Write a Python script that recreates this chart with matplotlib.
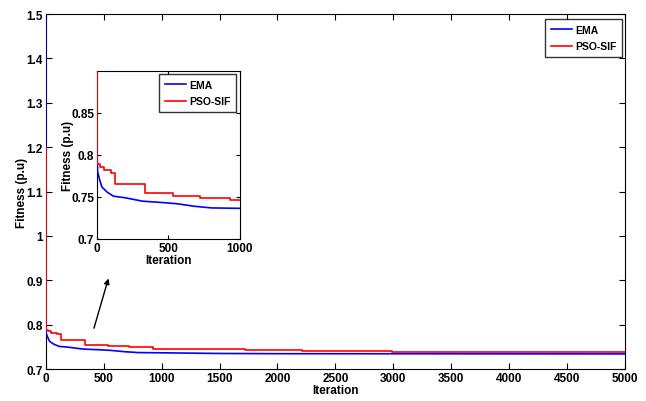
import matplotlib.pyplot as plt
from matplotlib.ticker import FuncFormatter

plt.rcParams['font.family'] = ['Liberation Sans Narrow', 'Liberation Sans', 'DejaVu Sans']
plt.rcParams['font.weight'] = 'bold'

# convergence data
ema_iter = [0, 1, 5, 20, 35, 70, 115, 200, 320, 450, 560, 680, 800, 1000, 1500, 2000, 5000]
ema_fit = [1.5, 0.805, 0.78, 0.77, 0.762, 0.756, 0.751, 0.749, 0.745, 0.7435, 0.742,
           0.739, 0.737, 0.7365, 0.735, 0.7345, 0.734]

pso_iter = [0, 1, 20, 50, 100, 128, 337, 534, 721, 930, 1720, 2210, 2990, 5000]
pso_fit = [1.2, 0.789, 0.786, 0.782, 0.779, 0.765, 0.755, 0.751, 0.749, 0.746,
           0.742, 0.7395, 0.7385, 0.7385]

fmt = FuncFormatter(lambda v, p: '%g' % round(v, 3))
fs = 8.5
lfs = 7.5

fig = plt.figure(figsize=(6.46, 4.02), dpi=100)
ax = fig.add_axes([0.0707, 0.0796, 0.897, 0.883])
ax.plot(ema_iter, ema_fit, color='#0000ff', lw=1.2, label='EMA', zorder=3)
ax.plot(pso_iter, pso_fit, color='#ff0000', lw=1.2, drawstyle='steps-post',
        label='PSO-SIF', zorder=3)
ax.set_xlim(0, 5000)
ax.set_ylim(0.7, 1.5)
ax.set_xticks(range(0, 5001, 500))
ax.set_yticks([0.7, 0.8, 0.9, 1.0, 1.1, 1.2, 1.3, 1.4, 1.5])
ax.yaxis.set_major_formatter(fmt)
ax.tick_params(direction='in', top=True, right=True, labelsize=fs, length=4, pad=2)
ax.set_xlabel('Iteration', fontsize=fs, fontweight='bold', labelpad=0)
ax.set_ylabel('Fitness (p.u)', fontsize=fs, fontweight='bold', labelpad=-1)
ax.legend(loc='upper right', fontsize=lfs, frameon=True, fancybox=False,
          edgecolor='black', handlelength=2.0, handletextpad=0.3, borderpad=0.55,
          labelspacing=0.6, borderaxespad=0, bbox_to_anchor=(0.995, 0.985))

ax.annotate('', xy=(548, 0.910), xytext=(410, 0.786),
            arrowprops=dict(arrowstyle='-|>', color='black', lw=1, mutation_scale=8))

ins = fig.add_axes([0.150, 0.403, 0.221, 0.418])
ins.plot(ema_iter[1:], ema_fit[1:], color='#0000ff', lw=1.2, label='EMA', zorder=3)
ins.plot(pso_iter, pso_fit, color='#ff0000', lw=1.2, drawstyle='steps-post',
         label='PSO-SIF', zorder=3)
ins.set_xlim(0, 1000)
ins.set_ylim(0.7, 0.9)
ins.set_xticks([0, 500, 1000])
ins.set_yticks([0.7, 0.75, 0.8, 0.85])
ins.yaxis.set_major_formatter(fmt)
ins.tick_params(direction='in', top=True, right=True, labelsize=fs, length=3, pad=2)
ins.set_xlabel('Iteration', fontsize=fs, fontweight='bold', labelpad=0)
ins.set_ylabel('Fitness (p.u)', fontsize=fs, fontweight='bold', labelpad=-2)
ins.legend(loc='upper right', fontsize=lfs, frameon=True, fancybox=False,
           edgecolor='black', handlelength=2.0, handletextpad=0.3, borderpad=0.55,
           labelspacing=0.6, borderaxespad=0, bbox_to_anchor=(0.975, 0.98))

fig.savefig('out.png', dpi=100)
